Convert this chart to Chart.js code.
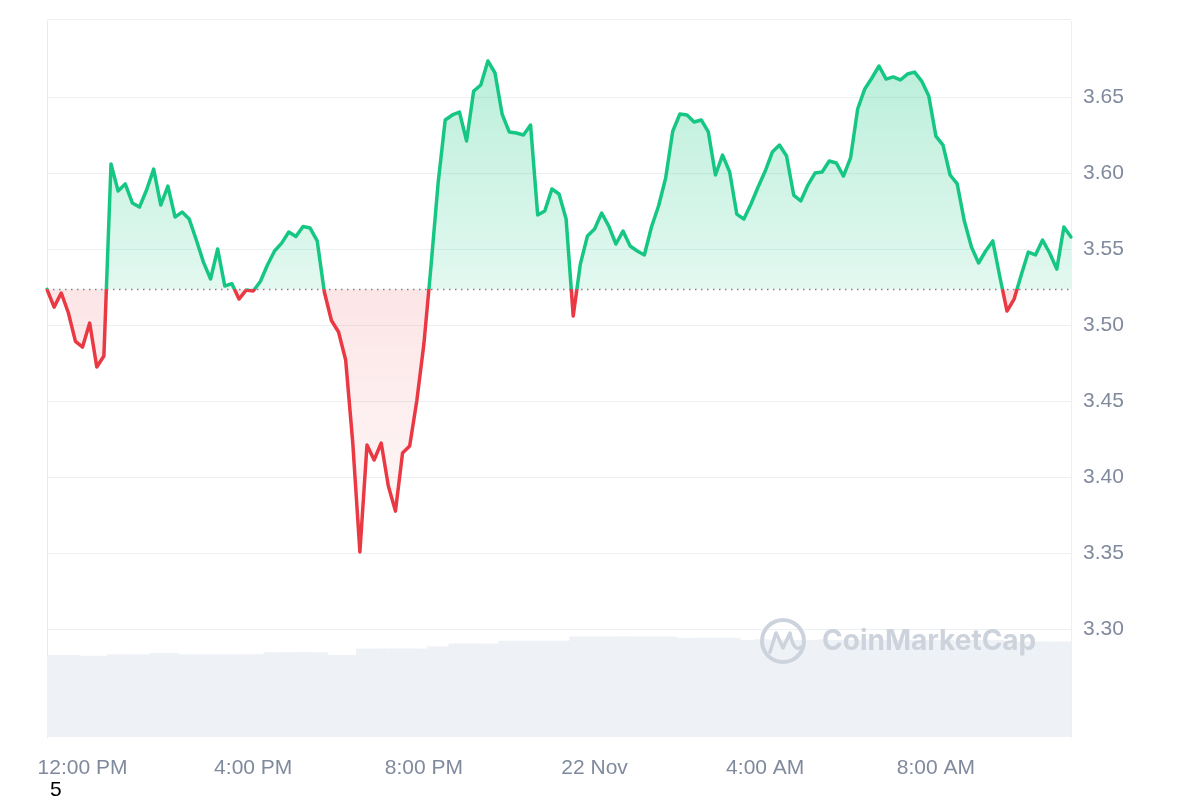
<!DOCTYPE html>
<html>
<head>
<meta charset="utf-8">
<script src="https://cdn.jsdelivr.net/npm/chart.js@4.4.1/dist/chart.umd.min.js"></script>
<style>
  html, body { margin: 0; padding: 0; background: #fff; }
  canvas { display: block; }
</style>
</head>
<body>
<canvas id="priceChart" width="1200" height="800"></canvas>
<script>
// price every 10 minutes, starting 11:10 AM (21 Nov)
const prices = [
  3.5235, 3.5118, 3.5211, 3.5081, 3.4892, 3.4855, 3.5013, 3.4724, 3.4796, 3.6059,
  3.5882, 3.5928, 3.5803, 3.5776, 3.5888, 3.6026, 3.5789, 3.5914, 3.5711, 3.5743,
  3.5697, 3.5559, 3.5414, 3.5303, 3.5500, 3.5257, 3.5272, 3.5171, 3.5230, 3.5224,
  3.5286, 3.5395, 3.5487, 3.5539, 3.5612, 3.5582, 3.5648, 3.5638, 3.5553, 3.5217,
  3.5030, 3.4954, 3.4770, 3.4224, 3.3507, 3.4211, 3.4112, 3.4224, 3.3941, 3.3776,
  3.4158, 3.4204, 3.4500, 3.4875, 3.5388, 3.5934, 3.6349, 3.6382, 3.6401, 3.6211,
  3.6539, 3.6579, 3.6737, 3.6658, 3.6388, 3.6270, 3.6263, 3.6250, 3.6316, 3.5724,
  3.5750, 3.5895, 3.5862, 3.5697, 3.5059, 3.5401, 3.5586, 3.5632, 3.5737, 3.5651,
  3.5533, 3.5618, 3.5520, 3.5487, 3.5461, 3.5645, 3.5783, 3.5967, 3.6276, 3.6388,
  3.6382, 3.6336, 3.6349, 3.6270, 3.5987, 3.6118, 3.6007, 3.5730, 3.5697, 3.5796,
  3.5908, 3.6013, 3.6138, 3.6184, 3.6112, 3.5855, 3.5816, 3.5921, 3.6000, 3.6007,
  3.6079, 3.6066, 3.5980, 3.6099, 3.6421, 3.6553, 3.6625, 3.6704, 3.6618, 3.6632,
  3.6612, 3.6651, 3.6664, 3.6605, 3.6507, 3.6243, 3.6184, 3.5987, 3.5928, 3.5684,
  3.5513, 3.5408, 3.5487, 3.5553, 3.5316, 3.5092, 3.5171, 3.5329, 3.5480, 3.5461,
  3.5559, 3.5474, 3.5368, 3.5645, 3.5579
];

// volume (arbitrary units) for the grey bars at the bottom
const volumes = [
  11.4, 11.4, 11.4, 11.4, 11.4, 11.3, 11.3, 11.3, 11.3, 11.5,
  11.5, 11.5, 11.5, 11.5, 11.5, 11.7, 11.7, 11.7, 11.7, 11.5,
  11.5, 11.5, 11.5, 11.5, 11.5, 11.5, 11.5, 11.5, 11.5, 11.5,
  11.5, 11.8, 11.8, 11.8, 11.8, 11.8, 11.8, 11.8, 11.8, 11.8,
  11.4, 11.4, 11.4, 11.4, 12.3, 12.3, 12.3, 12.3, 12.3, 12.3,
  12.3, 12.3, 12.3, 12.3, 12.6, 12.6, 12.6, 13.0, 13.0, 13.0,
  13.0, 13.0, 13.0, 13.0, 13.4, 13.4, 13.4, 13.4, 13.4, 13.4,
  13.4, 13.4, 13.4, 13.4, 14.0, 14.0, 14.0, 14.0, 14.0, 14.0,
  14.0, 14.0, 14.0, 14.0, 14.0, 14.0, 14.0, 14.0, 14.0, 13.8,
  13.8, 13.8, 13.8, 13.8, 13.8, 13.8, 13.8, 13.8, 13.5, 13.5,
  13.6, 13.6, 13.5, 13.5, 13.6, 13.5, 13.5, 13.5, 13.5, 13.6,
  13.5, 13.5, 13.5, 13.5, 13.5, 13.6, 13.5, 13.5, 13.5, 13.5,
  13.5, 13.5, 13.5, 13.4, 13.5, 13.5, 13.5, 13.5, 13.4, 13.5,
  13.5, 13.5, 13.5, 13.5, 13.5, 13.3, 13.3, 13.3, 13.3, 13.3,
  13.3, 13.3, 13.3, 13.3, 13.3
];

const BASE_PRICE = 3.5235;   // opening price, dotted reference line
const START_MINUTES = 11 * 60 + 10;
const STEP_MINUTES = 10;

const xTickTimes = ['12:00', '16:00', '20:00', '00:00', '04:00', '08:00'];
const xTickLabels = ['12:00 PM', '4:00 PM', '8:00 PM', '22 Nov', '4:00 AM', '8:00 AM'];
const yTickValues = [3.30, 3.35, 3.40, 3.45, 3.50, 3.55, 3.60, 3.65];

const UP = '#16c784';
const DOWN = '#ea3943';
const TEXT = '#808a9d';
const GRID = '#edf0f3';
const FONT = '"Liberation Sans", Arial, sans-serif';

const pad = n => String(n).padStart(2, '0');
const times = prices.map((_, i) => {
  const m = (START_MINUTES + i * STEP_MINUTES) % 1440;
  return pad(Math.floor(m / 60)) + ':' + pad(m % 60);
});

const styles = { line: UP };

// gradients depend on the chart area, so build them once layout is known
const gradients = {
  id: 'gradients',
  afterLayout(chart) {
    const { ctx, chartArea, scales } = chart;
    const yBase = scales.y.getPixelForValue(BASE_PRICE);
    const stop = (yBase - chartArea.top) / (chartArea.bottom - chartArea.top);

    const line = ctx.createLinearGradient(0, chartArea.top, 0, chartArea.bottom);
    line.addColorStop(0, UP);
    line.addColorStop(stop, UP);
    line.addColorStop(stop, DOWN);
    line.addColorStop(1, DOWN);
    styles.line = line;

    const up = ctx.createLinearGradient(0, chartArea.top, 0, yBase);
    up.addColorStop(0, 'rgba(22, 199, 132, 0.32)');
    up.addColorStop(1, 'rgba(22, 199, 132, 0.12)');
    const down = ctx.createLinearGradient(0, yBase, 0, scales.y.getPixelForValue(3.35));
    down.addColorStop(0, 'rgba(234, 57, 67, 0.13)');
    down.addColorStop(1, 'rgba(234, 57, 67, 0.03)');

    chart.data.datasets[0].fill = { target: { value: BASE_PRICE }, above: up, below: down };
  }
};

// top frame line, dotted line at the opening price, watermark, stray "5"
const extras = {
  id: 'extras',
  beforeDatasetsDraw(chart) {
    const { ctx, chartArea } = chart;
    ctx.save();
    ctx.strokeStyle = GRID;
    ctx.lineWidth = 1;
    ctx.beginPath();
    ctx.moveTo(chartArea.left, chartArea.top - 1.5);
    ctx.lineTo(chartArea.right, chartArea.top - 1.5);
    ctx.stroke();
    ctx.restore();
  },
  afterDatasetsDraw(chart) {
    const { ctx, chartArea, scales } = chart;
    const yBase = Math.round(scales.y.getPixelForValue(BASE_PRICE)) + 0.5;

    ctx.save();
    // watermark
    const cy = chartArea.bottom - 96;
    const textLeft = chartArea.right - 249;
    ctx.strokeStyle = '#cdd3dd';
    ctx.lineWidth = 4;
    ctx.beginPath();
    ctx.arc(textLeft - 39, cy, 21, 0, Math.PI * 2);
    ctx.stroke();
    ctx.lineWidth = 3.5;
    ctx.lineJoin = 'round';
    ctx.lineCap = 'round';
    ctx.beginPath();
    ctx.moveTo(textLeft - 52, cy + 11);
    ctx.lineTo(textLeft - 46, cy - 8);
    ctx.lineTo(textLeft - 39, cy + 7);
    ctx.lineTo(textLeft - 32, cy - 8);
    ctx.quadraticCurveTo(textLeft - 28, cy + 12, textLeft - 21, cy + 6);
    ctx.stroke();
    ctx.fillStyle = '#cdd3dd';
    ctx.font = 'bold 28px Inter, sans-serif';
    ctx.textBaseline = 'middle';
    ctx.textAlign = 'left';
    ctx.fillText('CoinMarketCap', textLeft, cy + 1);

    // dotted baseline
    ctx.strokeStyle = '#7d838c';
    ctx.lineWidth = 1.5;
    ctx.lineCap = 'butt';
    ctx.setLineDash([1.5, 4.5]);
    ctx.beginPath();
    ctx.moveTo(chartArea.left, yBase);
    ctx.lineTo(chartArea.right, yBase);
    ctx.stroke();
    ctx.setLineDash([]);

    ctx.fillStyle = '#000';
    ctx.font = '21px ' + FONT;
    ctx.textBaseline = 'alphabetic';
    ctx.fillText('5', chartArea.left + 3, chart.height - 4);
    ctx.restore();
  }
};

const chart = new Chart(document.getElementById('priceChart'), {
  data: {
    labels: times,
    datasets: [
      {
        type: 'line',
        label: 'Price',
        data: prices,
        yAxisID: 'y',
        borderColor: () => styles.line,
        borderWidth: 3.5,
        borderJoinStyle: 'round',
        borderCapStyle: 'round',
        pointRadius: 0,
        tension: 0,
        fill: { target: { value: BASE_PRICE }, above: 'rgba(22,199,132,0.2)', below: 'rgba(234,57,67,0.1)' },
        order: 0
      },
      {
        type: 'bar',
        label: 'Volume',
        data: volumes,
        yAxisID: 'yv',
        backgroundColor: '#eef1f5',
        barPercentage: 1,
        categoryPercentage: 1,
        order: 1
      }
    ]
  },
  options: {
    responsive: false,
    animation: false,
    layout: { padding: { top: 21 } },
    plugins: {
      legend: { display: false },
      tooltip: { enabled: false }
    },
    scales: {
      x: {
        offset: false,
        grid: { display: false, drawTicks: false },
        border: { display: false },
        ticks: {
          autoSkip: false,
          maxRotation: 0,
          minRotation: 0,
          padding: 19,
          color: TEXT,
          font: { size: 21, family: FONT },
          callback: function (value, index) {
            const k = xTickTimes.indexOf(times[index]);
            return k >= 0 ? xTickLabels[k] : null;
          }
        },
        afterFit: s => { s.height = 63; }
      },
      y: {
        position: 'right',
        min: 3.229,
        max: 3.70,
        grid: {
          drawTicks: true,
          tickLength: 12,
          tickColor: 'rgba(0,0,0,0)',
          color: c => (c.tick && c.tick.value >= 3.299 ? GRID : 'rgba(0,0,0,0)')
        },
        border: { display: true, color: GRID },
        ticks: {
          stepSize: 0.05,
          padding: 0,
          color: TEXT,
          font: { size: 21, family: FONT },
          callback: function (value) {
            const hit = yTickValues.find(v => Math.abs(v - value) < 1e-6);
            return hit !== undefined ? hit.toFixed(2) : null;
          }
        },
        afterFit: s => { s.width = 129; }
      },
      yv: {
        position: 'left',
        min: 0,
        max: 100,
        grid: { display: false, drawTicks: false },
        border: { display: true, color: '#e6e9ee' },
        ticks: { display: false },
        afterFit: s => { s.width = 47; }
      }
    }
  },
  plugins: [gradients, extras]
});
</script>
</body>
</html>
